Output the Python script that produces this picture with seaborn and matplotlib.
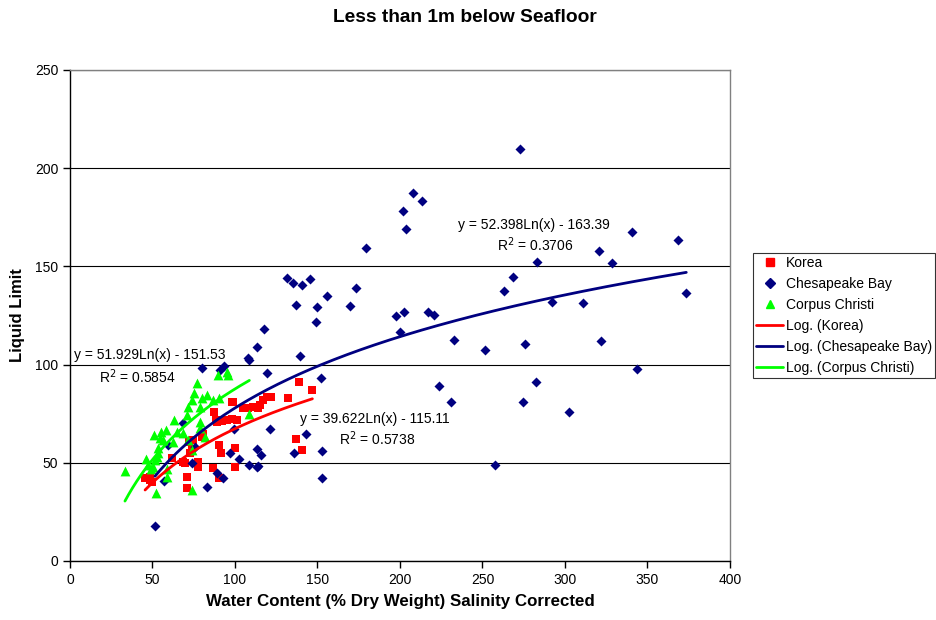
import matplotlib
matplotlib.use("Agg")
import matplotlib.pyplot as plt
from matplotlib.lines import Line2D
import numpy as np
import pandas as pd
import seaborn as sns

# Korea (red squares)
korea_x = [45.5, 48.5, 49.5, 48.5, 61.6, 69.7, 70.7, 70.7, 68.7, 72.7, 72.3, 74.7, 73.7,
           77.8, 77.8, 79.8, 80.8, 86.9, 87.5, 88.5, 88.9, 90.3, 90.3, 91.5, 91.9, 95.0,
           98.0, 98.4, 99.0, 100.0, 100.0, 101.0, 105.1, 108.1, 110.7, 114.1, 115.2, 116.8,
           119.2, 121.6, 131.9, 136.8, 138.8, 140.4, 146.9]
korea_y = [42.1, 41.2, 40.4, 42.9, 52.3, 49.7, 37.0, 42.9, 50.6, 54.8, 60.8, 61.6, 56.9,
           50.6, 48.0, 63.3, 64.5, 47.2, 76.0, 71.8, 70.9, 59.1, 42.1, 55.1, 71.3, 71.8,
           72.3, 81.1, 80.8, 57.4, 48.0, 71.8, 78.1, 77.7, 78.6, 77.7, 79.4, 82.0,
           83.4, 83.7, 83.2, 62.1, 91.0, 56.5, 87.1]

# Chesapeake Bay (navy diamonds)
ches_x = [51.5, 57.2, 59.6, 68.7, 73.7, 75.8, 79.8, 83.2, 88.9, 90.9, 92.5, 93.5, 97.0,
          99.6, 102.2, 107.6, 108.3, 108.3, 113.1, 113.3, 113.5, 113.7, 116.0, 117.6, 119.2,
          121.0, 131.7, 135.4, 135.8, 137.2, 139.4, 140.6, 142.8, 145.3, 149.3, 149.9,
          152.1, 152.5, 152.5, 155.6, 169.7, 173.1, 179.4, 197.6, 200.2, 201.8, 202.2,
          203.6, 207.9, 213.3, 217.2, 220.8, 223.6, 230.7, 232.9, 251.5, 257.8, 262.8,
          268.3, 272.7, 274.5, 275.8, 282.4, 282.8, 291.9, 302.4, 310.9, 320.6, 321.6,
          328.7, 340.4, 343.8, 368.3, 373.5]
ches_y = [17.8, 40.7, 59.1, 70.1, 49.7, 58.2, 98.1, 37.8, 45.0, 97.3, 42.1, 99.4, 55.1,
          67.0, 51.9, 103.3, 102.3, 49.0, 108.8, 57.0, 47.9, 48.2, 54.0, 118.0, 95.6,
          67.2, 144.2, 141.4, 55.1, 130.2, 104.5, 140.4, 64.7, 143.6, 121.5, 129.3,
          93.0, 56.0, 42.1, 134.9, 129.7, 139.2, 159.4, 124.7, 116.8, 178.2, 126.6,
          169.0, 187.4, 183.3, 126.9, 125.1, 89.3, 81.0, 112.4, 107.4, 48.9, 137.3,
          144.6, 209.8, 81.0, 110.6, 91.0, 152.4, 132.0, 75.9, 131.2, 158.0, 112.2,
          151.7, 167.7, 97.9, 163.4, 136.6]

# Corpus Christi (green triangles)
cc_x = [33.3, 46.1, 47.5, 49.1, 50.5, 51.1, 51.5, 52.1, 52.5, 53.1, 53.5, 54.5, 55.2,
        56.5, 58.0, 58.6, 59.0, 62.6, 63.2, 64.6, 68.7, 70.7, 71.3, 71.7, 73.7, 73.7,
        74.1, 75.4, 76.8, 78.8, 78.8, 78.8, 79.8, 81.8, 82.8, 86.9, 89.9, 90.3, 95.0,
        95.9, 108.7]
cc_y = [46.0, 51.8, 48.9, 46.7, 48.0, 64.2, 51.4, 34.5, 53.1, 57.4, 54.8, 62.5, 65.8,
        61.6, 66.7, 46.7, 42.9, 60.4, 71.8, 65.5, 65.0, 74.3, 61.6, 78.3, 82.0, 56.5,
        36.1, 85.4, 90.5, 78.6, 70.9, 67.6, 82.8, 63.3, 84.5, 82.0, 94.7, 82.8, 96.4,
        94.7, 74.8]

# Excel logarithmic trendlines y = a*ln(x) + b, and the x-range each one spans
series = ["Korea", "Chesapeake Bay", "Corpus Christi"]
fit_a = [39.622, 52.398, 51.929]
fit_b = [-115.11, -163.39, -151.53]
fit_r2 = [0.5738, 0.3706, 0.5854]
fit_xmin = [45.5, 51.5, 33.3]
fit_xmax = [146.9, 373.5, 108.7]

colors = {"Korea": "#FF0000", "Chesapeake Bay": "#000080", "Corpus Christi": "#00FF00"}
markers = {"Korea": "s", "Chesapeake Bay": "D", "Corpus Christi": "^"}
sizes = {"Korea": 40, "Chesapeake Bay": 26, "Corpus Christi": 50}

sns.set_style("white")
plt.rcParams["font.family"] = ["Liberation Sans", "DejaVu Sans"]
plt.rcParams["text.color"] = "black"
plt.rcParams["axes.labelcolor"] = "black"
plt.rcParams["xtick.color"] = "black"
plt.rcParams["ytick.color"] = "black"

df = pd.concat([
    pd.DataFrame({"x": korea_x, "y": korea_y, "site": "Korea"}),
    pd.DataFrame({"x": ches_x, "y": ches_y, "site": "Chesapeake Bay"}),
    pd.DataFrame({"x": cc_x, "y": cc_y, "site": "Corpus Christi"}),
], ignore_index=True)

fig = plt.figure(figsize=(9.37, 6.2), dpi=100)
ax = fig.add_axes([70 / 937, 1 - 561 / 620, 660 / 937, 491 / 620])

for s in series:
    sub = df[df.site == s]
    sns.scatterplot(data=sub, x="x", y="y", ax=ax, color=colors[s], marker=markers[s],
                    s=sizes[s], linewidth=0, legend=False, zorder=3)

for s, a, b, lo, hi in zip(series, fit_a, fit_b, fit_xmin, fit_xmax):
    xs = np.linspace(lo, hi, 200)
    sns.lineplot(x=xs, y=a * np.log(xs) + b, ax=ax, color=colors[s], linewidth=2,
                 zorder=4, legend=False)

ax.set_xlim(0, 400)
ax.set_ylim(0, 250)
ax.set_xticks(range(0, 401, 50))
ax.set_yticks(range(0, 251, 50))
ax.yaxis.grid(True, color="#000000", linewidth=0.8)
ax.set_axisbelow(True)
ax.tick_params(axis="both", direction="out", length=5, width=1, labelsize=10, color="black",
               left=True, bottom=True)
for side in ["left", "bottom"]:
    ax.spines[side].set_color("black")
    ax.spines[side].set_linewidth(1)
for side in ["top", "right"]:
    ax.spines[side].set_visible(True)
    ax.spines[side].set_color("#808080")
    ax.spines[side].set_linewidth(1)

ax.set_xlabel("Water Content (% Dry Weight) Salinity Corrected", fontsize=12.2,
              fontweight="bold", labelpad=5)
ax.set_ylabel("Liquid Limit", fontsize=12, fontweight="bold", labelpad=7)
fig.text(465 / 937, 1 - 17 / 620, "Less than 1m below Seafloor", ha="center", va="center",
         fontsize=13.8, fontweight="bold")

# trendline equation labels
label_pos = {"Korea": (185, 72.3, 186, 62.1),
             "Chesapeake Bay": (281, 171.1, 282, 160.9),
             "Corpus Christi": (48.5, 104.9, 40.6, 93.7)}
for s, a, b, r2 in zip(series, fit_a, fit_b, fit_r2):
    ex, ey, rx, ry = label_pos[s]
    ax.text(ex, ey, f"y = {a:.3f}Ln(x) - {abs(b):.2f}", ha="center", va="center", fontsize=10)
    ax.text(rx, ry, f"R$^2$ = {r2:.4f}", ha="center", va="center", fontsize=10)

handles = [Line2D([], [], linestyle="", marker=markers[s], color=colors[s],
                  markersize=6 if s != "Chesapeake Bay" else 5) for s in series]
handles += [Line2D([], [], color=colors[s], linewidth=2) for s in series]
labels = series + [f"Log. ({s})" for s in series]
leg = fig.legend(handles, labels, loc="upper left", bbox_to_anchor=(753 / 937, 1 - 253 / 620),
                 fontsize=10, frameon=True, fancybox=False, edgecolor="black",
                 borderpad=0.22, labelspacing=0.5, handlelength=1.95, handletextpad=0.2,
                 borderaxespad=0)
leg.get_frame().set_linewidth(0.8)

fig.savefig("out.png", dpi=100)
